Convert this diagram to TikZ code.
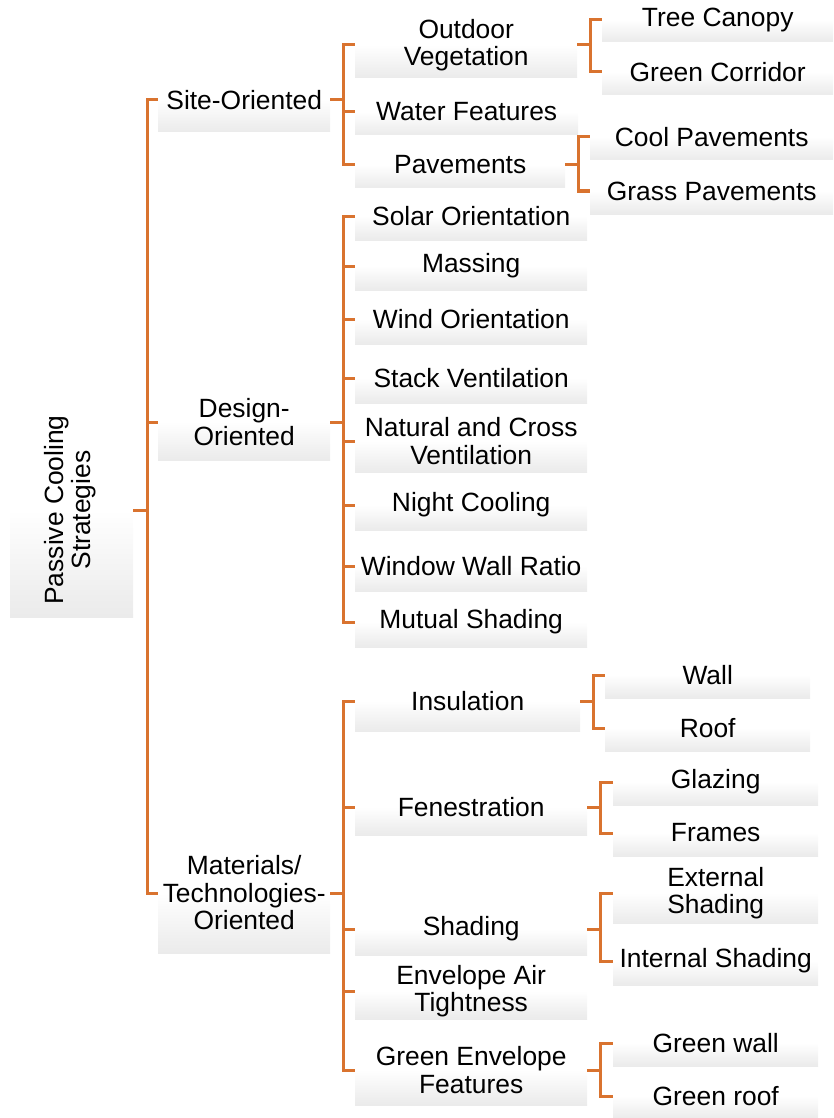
\documentclass[tikz,border=0pt]{standalone}
\usepackage{fontspec}
\setmainfont{Liberation Sans}
\usepackage{tikz}
\definecolor{LinkOrange}{HTML}{D9732F}
\definecolor{BoxGray}{HTML}{DADADA}
\pgfdeclareverticalshading{tileshade}{100bp}{color(0bp)=(BoxGray); color(30bp)=(BoxGray!45); color(50bp)=(white); color(100bp)=(white)}

\begin{document}
\begin{tikzpicture}[x=1pt, y=-1pt,
    tile/.style = {inner sep=0pt, align=center, anchor=west, shading=tileshade,
      font=\fontsize{26.4}{27.5}\selectfont},
    link/.style = {draw=LinkOrange, line width=3pt}]
      \useasboundingbox (0,0) rectangle (833,1118);
      \node[tile, anchor=center, minimum width=123pt, minimum height=214pt] (0) at (71.5,510)
        {\rotatebox{90}{\begin{tabular}{@{}c@{}}Passive Cooling\\Strategies\end{tabular}}};
      \node[tile, minimum width=172pt, minimum height=64pt] (1) at (158,100) {Site-Oriented};
      \node[tile, minimum width=172pt, minimum height=76pt] (2) at (158,422) {Design-\\Oriented};
      \node[tile, minimum width=172pt, minimum height=120pt] (3) at (158,893) {Materials/\\Technologies-\\Oriented};
      \node[tile, minimum width=222pt, minimum height=66pt] (4) at (355,45) {Outdoor\\Vegetation};
      \node[tile, minimum width=223pt, minimum height=46pt] (5) at (355,112) {Water Features};
      \node[tile, minimum width=210pt, minimum height=46pt] (6) at (355,165) {Pavements};
      \node[tile, minimum width=232pt, minimum height=48pt] (7) at (355,216) {Solar Orientation};
      \node[tile, minimum width=232pt, minimum height=48pt] (8) at (355,266) {Massing};
      \node[tile, minimum width=232pt, minimum height=50pt] (9) at (355,319) {Wind Orientation};
      \node[tile, minimum width=232pt, minimum height=50pt] (10) at (355,378) {Stack Ventilation};
      \node[tile, minimum width=232pt, minimum height=62pt] (11) at (355,441) {Natural and Cross\\Ventilation};
      \node[tile, minimum width=232pt, minimum height=50pt] (12) at (355,505) {Night Cooling};
      \node[tile, minimum width=232pt, minimum height=50pt] (13) at (355,566) {Window Wall Ratio};
      \node[tile, minimum width=232pt, minimum height=50pt] (14) at (355,622) {Mutual Shading};
      \node[tile, minimum width=225pt, minimum height=60pt] (15) at (355,701) {Insulation};
      \node[tile, minimum width=232pt, minimum height=56pt] (16) at (355,807) {Fenestration};
      \node[tile, minimum width=232pt, minimum height=52pt] (17) at (355,929) {Shading};
      \node[tile, minimum width=232pt, minimum height=56pt] (18) at (355,991) {Envelope Air\\Tightness};
      \node[tile, minimum width=232pt, minimum height=70pt] (19) at (355,1070) {Green Envelope\\Features};
      \node[tile, minimum width=231pt, minimum height=44pt] (20) at (602,20) {Tree Canopy};
      \node[tile, minimum width=231pt, minimum height=46pt] (21) at (602,72) {Green Corridor};
      \node[tile, minimum width=243pt, minimum height=46pt] (22) at (590,137) {Cool Pavements};
      \node[tile, minimum width=243pt, minimum height=46pt] (23) at (590,191) {Grass Pavements};
      \node[tile, minimum width=205pt, minimum height=46pt] (24) at (605,675) {Wall};
      \node[tile, minimum width=205pt, minimum height=46pt] (25) at (605,728) {Roof};
      \node[tile, minimum width=205pt, minimum height=46pt] (26) at (613,782) {Glazing};
      \node[tile, minimum width=205pt, minimum height=46pt] (27) at (613,833) {Frames};
      \node[tile, minimum width=205pt, minimum height=60pt] (28) at (613,893) {External\\Shading};
      \node[tile, minimum width=205pt, minimum height=48pt] (29) at (613,961) {Internal Shading};
      \node[tile, minimum width=205pt, minimum height=46pt] (30) at (613,1043) {Green wall};
      \node[tile, minimum width=205pt, minimum height=46pt] (31) at (613,1096) {Green roof};
      \draw[link] (0.east) -- ++(14,0) |- (1.west);
      \draw[link] (0.east) -- ++(14,0) |- (2.west);
      \draw[link] (0.east) -- ++(14,0) |- (3.west);
      \draw[link] (1.east) -- ++(13,0) |- (4.west);
      \draw[link] (1.east) -- ++(13,0) |- (5.west);
      \draw[link] (1.east) -- ++(13,0) |- (6.west);
      \draw[link] (2.east) -- ++(13,0) |- (7.west);
      \draw[link] (2.east) -- ++(13,0) |- (8.west);
      \draw[link] (2.east) -- ++(13,0) |- (9.west);
      \draw[link] (2.east) -- ++(13,0) |- (10.west);
      \draw[link] (2.east) -- ++(13,0) |- (11.west);
      \draw[link] (2.east) -- ++(13,0) |- (12.west);
      \draw[link] (2.east) -- ++(13,0) |- (13.west);
      \draw[link] (2.east) -- ++(13,0) |- (14.west);
      \draw[link] (3.east) -- ++(13,0) |- (15.west);
      \draw[link] (3.east) -- ++(13,0) |- (16.west);
      \draw[link] (3.east) -- ++(13,0) |- (17.west);
      \draw[link] (3.east) -- ++(13,0) |- (18.west);
      \draw[link] (3.east) -- ++(13,0) |- (19.west);
      \draw[link] (4.east) -- ++(13,0) |- (20.west);
      \draw[link] (4.east) -- ++(13,0) |- (21.west);
      \draw[link] (6.east) -- ++(13,0) |- (22.west);
      \draw[link] (6.east) -- ++(13,0) |- (23.west);
      \draw[link] (15.east) -- ++(13,0) |- (24.west);
      \draw[link] (15.east) -- ++(13,0) |- (25.west);
      \draw[link] (16.east) -- ++(13,0) |- (26.west);
      \draw[link] (16.east) -- ++(13,0) |- (27.west);
      \draw[link] (17.east) -- ++(13,0) |- (28.west);
      \draw[link] (17.east) -- ++(13,0) |- (29.west);
      \draw[link] (19.east) -- ++(13,0) |- (30.west);
      \draw[link] (19.east) -- ++(13,0) |- (31.west);
    \end{tikzpicture}
\end{document}
